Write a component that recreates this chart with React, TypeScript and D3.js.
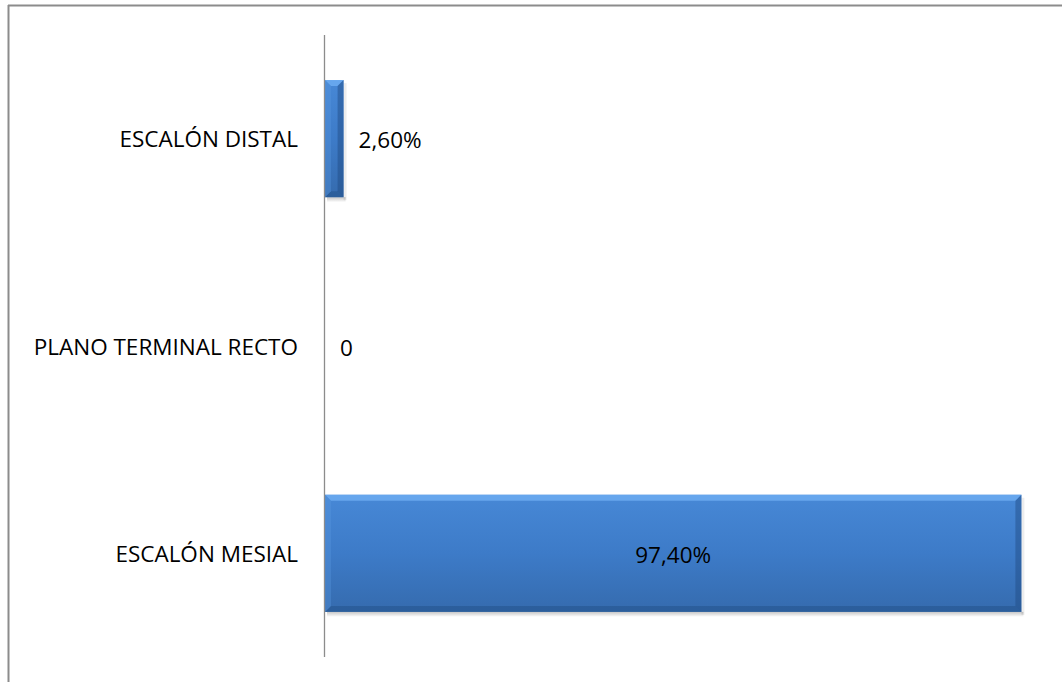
import React from "react";
import * as d3 from "d3";

const categories = ["ESCALÓN DISTAL", "PLANO TERMINAL RECTO", "ESCALÓN MESIAL"];
const values = [0.026, 0, 0.974];
const valueLabels = ["2,60%", "0", "97,40%"];

const W = 1062;
const H = 682;
const plot = { left: 325, right: 1040, top: 35, bottom: 657 };

export default function App() {
  const x = d3.scaleLinear().domain([0, 1]).range([plot.left, plot.right]);
  const y = d3
    .scaleBand<string>()
    .domain(categories)
    .range([plot.top, plot.bottom])
    .paddingInner(0.435)
    .paddingOuter(0.2175);
  const bw = y.bandwidth();
  const font = "Open Sans, sans-serif";
  const fs = 22.5;
  const bev = 6;

  return (
    <svg
      width={W}
      height={H}
      style={{ position: "absolute", left: 0, top: 0, background: "#fff" }}
    >
      <defs>
        <linearGradient id="barGrad" x1="0" y1="0" x2="0" y2="1">
          <stop offset="0" stopColor="#4788d6" />
          <stop offset="0.5" stopColor="#3d7bc8" />
          <stop offset="1" stopColor="#356bae" />
        </linearGradient>
        <linearGradient id="shadow" x1="0" y1="0" x2="0" y2="1">
          <stop offset="0" stopColor="#000" stopOpacity="0.22" />
          <stop offset="1" stopColor="#000" stopOpacity="0" />
        </linearGradient>
      </defs>
      <rect x={0} y={0} width={W} height={H} fill="#fff" />
      <line x1={8.5} y1={5} x2={8.5} y2={H} stroke="#8c8c8c" strokeWidth={2} />
      <line x1={8} y1={5.5} x2={W} y2={5.5} stroke="#8c8c8c" strokeWidth={2} />

      {categories.map((c, i) => {
        const x0 = x(0);
        const x1 = x(values[i]);
        const y0 = y(c)!;
        const y1 = y0 + bw;
        const w = x1 - x0;
        if (w <= 0) return null;
        const b = Math.min(bev, w / 2);
        return (
          <g key={c}>
            <rect x={x0 + 2} y={y1} width={w} height={5} fill="url(#shadow)" />
            <rect x={x1} y={y0 + 3} width={3} height={bw} fill="#000" opacity={0.07} />
            <rect x={x0} y={y0} width={w} height={bw} fill="url(#barGrad)" />
            <polygon
              points={`${x0},${y0} ${x1},${y0} ${x1 - b},${y0 + bev} ${x0 + b},${y0 + bev}`}
              fill="#6eaef2"
              opacity={0.8}
            />
            <polygon
              points={`${x0},${y1} ${x1},${y1} ${x1 - b},${y1 - bev} ${x0 + b},${y1 - bev}`}
              fill="#1f4a80"
              opacity={0.4}
            />
            <polygon
              points={`${x0},${y0} ${x0 + b},${y0 + bev} ${x0 + b},${y1 - bev} ${x0},${y1}`}
              fill="#5a97e0"
              opacity={0.35}
            />
            <polygon
              points={`${x1},${y0} ${x1 - b},${y0 + bev} ${x1 - b},${y1 - bev} ${x1},${y1}`}
              fill="#1f4a80"
              opacity={0.45}
            />
          </g>
        );
      })}

      <line
        x1={plot.left - 0.5}
        y1={plot.top}
        x2={plot.left - 0.5}
        y2={plot.bottom}
        stroke="#8c8c8c"
        strokeWidth={1.3}
      />

      {categories.map((c) => (
        <text
          key={c}
          x={298}
          y={y(c)! + bw / 2}
          textAnchor="end"
          dominantBaseline="central"
          fontFamily={font}
          fontSize={fs}
          fill="#000"
        >
          {c}
        </text>
      ))}

      {categories.map((c, i) => {
        const inside = values[i] > 0.5;
        const cx = inside ? (x(0) + x(values[i])) / 2 : x(values[i]) + 15;
        return (
          <text
            key={c + "v"}
            x={cx}
            y={y(c)! + bw / 2 + 1}
            textAnchor={inside ? "middle" : "start"}
            dominantBaseline="central"
            fontFamily={font}
            fontSize={fs}
            fill="#000"
          >
            {valueLabels[i]}
          </text>
        );
      })}
    </svg>
  );
}
